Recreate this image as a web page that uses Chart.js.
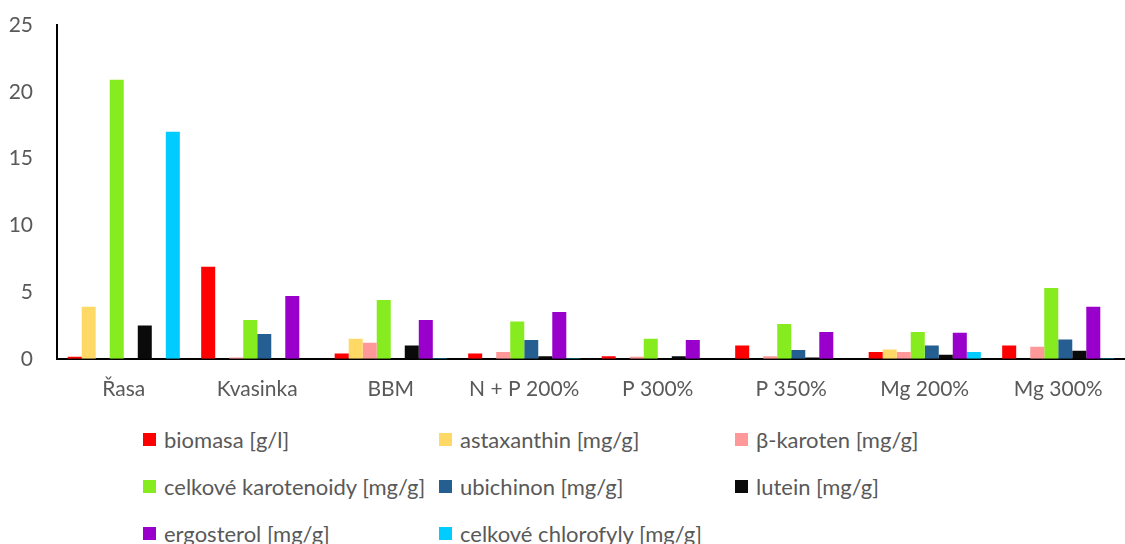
<!DOCTYPE html>
<html>
<head>
<meta charset="utf-8">
<script src="https://cdn.jsdelivr.net/npm/chart.js@4"></script>
<style>
  body { margin: 0; background: #fff; }
  #wrap { position: relative; width: 1125px; height: 544px; }
  #chartBox { position: absolute; left: 0; top: 0; width: 1125px; height: 420px; }
  #legend { position: absolute; left: 143px; top: 426px; display: grid; grid-template-columns: 296px 296px 296px; row-gap: 20px;
    font-family: Lato, sans-serif; font-size: 22px; color: #595959; }
  #legend div { display: flex; align-items: center; height: 27px; white-space: nowrap; }
  #legend span.box { width: 13px; height: 13px; margin-right: 8px; display: inline-block; }
</style>
</head>
<body>
<div id="wrap">
  <div id="chartBox"><canvas id="barChart"></canvas></div>
  <div id="legend"></div>
</div>
<script>
const categories = ['Řasa', 'Kvasinka', 'BBM', 'N + P 200%', 'P 300%', 'P 350%', 'Mg 200%', 'Mg 300%'];
const seriesNames = ['biomasa [g/l]', 'astaxanthin [mg/g]', 'β-karoten [mg/g]', 'celkové karotenoidy [mg/g]',
  'ubichinon [mg/g]', 'lutein [mg/g]', 'ergosterol [mg/g]', 'celkové chlorofyly [mg/g]'];
const biomasa = [0.15, 6.9, 0.4, 0.4, 0.2, 1.0, 0.5, 1.0];
const astaxanthin = [3.9, 0, 1.5, 0, 0, 0, 0.7, 0];
const betaKaroten = [0, 0.1, 1.2, 0.5, 0.15, 0.2, 0.5, 0.9];
const karotenoidy = [20.9, 2.9, 4.4, 2.8, 1.5, 2.6, 2.0, 5.3];
const ubichinon = [0, 1.85, 0, 1.4, 0, 0.65, 1.0, 1.45];
const lutein = [2.5, 0, 1.0, 0.2, 0.2, 0.1, 0.3, 0.6];
const ergosterol = [0, 4.7, 2.9, 3.5, 1.4, 2.0, 1.95, 3.9];
const chlorofyly = [17.0, 0, 0.05, 0.05, 0, 0, 0.5, 0.05];
const yTicks = [0, 5, 10, 15, 20, 25];
const colors = ['#FF0000', '#FFD966', '#FF9999', '#86EC1F', '#255E91', '#0A0A0A', '#9900CC', '#00CCFF'];

const allSeries = [biomasa, astaxanthin, betaKaroten, karotenoidy, ubichinon, lutein, ergosterol, chlorofyly];

document.addEventListener('DOMContentLoaded', function() {
    const legend = document.getElementById('legend');
    seriesNames.forEach((name, i) => {
        const item = document.createElement('div');
        item.innerHTML = '<span class="box" style="background:' + colors[i] + '"></span>' + name;
        legend.appendChild(item);
    });

    const ctx = document.getElementById('barChart').getContext('2d');
    new Chart(ctx, {
        type: 'bar',
        data: {
            labels: categories,
            datasets: allSeries.map((d, i) => ({
                label: seriesNames[i],
                data: d,
                backgroundColor: colors[i],
                categoryPercentage: 0.84,
                barPercentage: 1.0
            }))
        },
        options: {
            responsive: true,
            maintainAspectRatio: false,
            animation: false,
            layout: { padding: { top: 25, left: 0, right: 0, bottom: 0 } },
            plugins: { legend: { display: false }, tooltip: { enabled: false } },
            scales: {
                x: {
                    grid: { display: false, drawTicks: false },
                    border: { color: '#000', width: 2 },
                    ticks: { color: '#595959', font: { family: 'Lato', size: 21 }, padding: 18 }
                },
                y: {
                    min: 0, max: 25,
                    afterBuildTicks: axis => { axis.ticks = yTicks.map(v => ({ value: v })); },
                    afterFit: axis => { axis.width = 57; axis.paddingTop = 0; axis.paddingBottom = 0; },
                    grid: { display: false, drawTicks: false },
                    border: { color: '#000', width: 2 },
                    ticks: { color: '#595959', font: { family: 'Lato', size: 21 }, padding: 24 }
                }
            }
        }
    });
});
</script>
</body>
</html>
